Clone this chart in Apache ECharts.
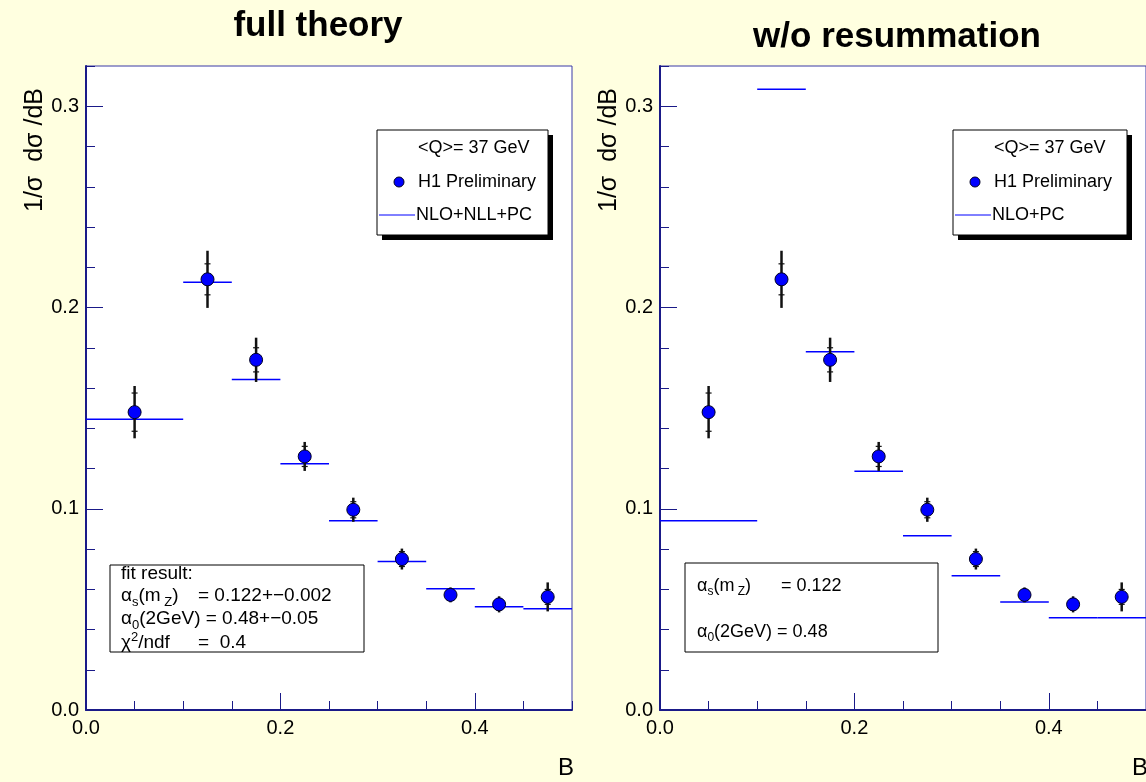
<!DOCTYPE html>
<html>
<head>
<meta charset="utf-8">
<script src="https://cdn.jsdelivr.net/npm/echarts@6/dist/echarts.min.js"></script>
<style>
  html, body { margin: 0; padding: 0; background: #ffffe0; }
  #chart { width: 1146px; height: 782px; }
</style>
</head>
<body>
<div id="chart"></div>
<script>
// B bins
const binLo = [0.0, 0.10, 0.15, 0.20, 0.25, 0.30, 0.35, 0.40, 0.45];
const binHi = [0.10, 0.15, 0.20, 0.25, 0.30, 0.35, 0.40, 0.45, 0.50];
const binCenter = [0.05, 0.125, 0.175, 0.225, 0.275, 0.325, 0.375, 0.425, 0.475];

// H1 preliminary, <Q> = 37 GeV (value, total error, stat error)
const h1Value = [0.148, 0.214, 0.174, 0.126, 0.0995, 0.075, 0.0572, 0.0525, 0.0562];
const h1ErrTot = [0.013, 0.0142, 0.011, 0.0072, 0.006, 0.0052, 0.0037, 0.004, 0.0072];
const h1ErrStat = [0.0095, 0.0077, 0.006, 0.005, 0.004, 0.0037, 0.0025, 0.0028, 0.0037];

// theory predictions per bin
const fullTheory = [0.1445, 0.2125, 0.1642, 0.1224, 0.094, 0.0738, 0.0603, 0.0513, 0.0503];
const noResum = [0.094, 0.3085, 0.178, 0.1186, 0.0866, 0.0667, 0.0537, 0.0458, 0.0458];

const xTickLabels = [0.0, 0.2, 0.4];
const yTickLabels = [0.0, 0.1, 0.2, 0.3];

const FONT = '"Liberation Sans", Arial, Helvetica, sans-serif';
const AXIS_COLOR = '#1a1a88';

const panels = [
  { left: 86, title: 'full theory', titleX: 318, titleY: 26, theory: fullTheory, theoryName: 'NLO+NLL+PC' },
  { left: 660, title: 'w/o resummation', titleX: 897, titleY: 37, theory: noResum, theoryName: 'NLO+PC' }
];

const points = binCenter.map((x, i) => [x, h1Value[i]]);
const errData = binCenter.map((x, i) => [x, h1Value[i], h1ErrTot[i], h1ErrStat[i]]);

function stepItem(params, api) {
  const a = api.coord([api.value(0), api.value(2)]);
  const b = api.coord([api.value(1), api.value(2)]);
  return {
    type: 'line',
    shape: { x1: a[0], y1: a[1], x2: b[0], y2: b[1] },
    style: { stroke: '#0000ff', lineWidth: 1.5 }
  };
}

function errItem(params, api) {
  const x = api.value(0), y = api.value(1), et = api.value(2), es = api.value(3);
  const t = api.coord([x, y + et]), b = api.coord([x, y - et]);
  const st = api.coord([x, y + es]), sb = api.coord([x, y - es]);
  const tick = (p) => ({
    type: 'line',
    shape: { x1: p[0] - 3, y1: p[1], x2: p[0] + 3, y2: p[1] },
    style: { stroke: '#111', lineWidth: 1.2 }
  });
  return {
    type: 'group',
    children: [
      { type: 'line', shape: { x1: t[0], y1: t[1], x2: b[0], y2: b[1] }, style: { stroke: '#111', lineWidth: 2.5 } },
      tick(st), tick(sb)
    ]
  };
}

const grids = [], xAxes = [], yAxes = [], series = [];

panels.forEach((p, k) => {
  grids.push({
    left: p.left, top: 66, width: 486, height: 644,
    show: true, backgroundColor: '#ffffff', borderColor: '#3b3ba6', borderWidth: 1
  });
  // main x axis with labels
  xAxes.push({
    gridIndex: k, type: 'value', min: 0, max: 0.5, interval: 0.2, position: 'bottom',
    axisLine: { show: true, lineStyle: { color: AXIS_COLOR, width: 2 } },
    axisTick: { show: true, inside: true, length: 17, customValues: xTickLabels, lineStyle: { color: AXIS_COLOR, width: 1 } },
    axisLabel: {
      show: true, margin: 8, color: '#000', fontSize: 20, fontFamily: FONT,
      customValues: xTickLabels, formatter: v => v.toFixed(1)
    },
    splitLine: { show: false }
  });
  // small x ticks
  xAxes.push({
    gridIndex: k, type: 'value', min: 0, max: 0.5, interval: 0.05, position: 'bottom',
    axisLine: { show: false },
    axisTick: { show: true, inside: true, length: 9, lineStyle: { color: AXIS_COLOR, width: 1 } },
    axisLabel: { show: false },
    splitLine: { show: false }
  });
  yAxes.push({
    gridIndex: k, type: 'value', min: 0, max: 0.32, interval: 0.1, position: 'left',
    axisLine: { show: true, lineStyle: { color: AXIS_COLOR, width: 2 } },
    axisTick: { show: true, inside: true, length: 17, customValues: yTickLabels, lineStyle: { color: AXIS_COLOR, width: 1 } },
    axisLabel: {
      show: true, margin: 7, color: '#000', fontSize: 20, fontFamily: FONT,
      customValues: yTickLabels, formatter: v => v.toFixed(1)
    },
    splitLine: { show: false }
  });
  yAxes.push({
    gridIndex: k, type: 'value', min: 0, max: 0.32, interval: 0.02, position: 'left',
    axisLine: { show: false },
    axisTick: { show: true, inside: true, length: 9, lineStyle: { color: AXIS_COLOR, width: 1 } },
    axisLabel: { show: false },
    splitLine: { show: false }
  });

  const xi = k * 2, yi = k * 2;
  series.push({
    name: p.theoryName, type: 'custom', xAxisIndex: xi, yAxisIndex: yi,
    renderItem: stepItem, encode: { x: [0, 1], y: 2 },
    data: binLo.map((lo, i) => [lo, binHi[i], p.theory[i]]), z: 2
  });
  series.push({
    name: 'H1 errors', type: 'custom', xAxisIndex: xi, yAxisIndex: yi,
    renderItem: errItem, encode: { x: 0, y: [1] },
    data: errData, z: 3
  });
  series.push({
    name: 'H1 Preliminary', type: 'scatter', xAxisIndex: xi, yAxisIndex: yi,
    symbol: 'circle', symbolSize: 13,
    itemStyle: { color: '#0000ff', borderColor: '#000022', borderWidth: 1, opacity: 1 },
    data: points, z: 4
  });
});

// annotation helpers
function txt(x, y, text, size, extra) {
  return {
    type: 'text', x: x, y: y,
    style: Object.assign({ text: text, fontSize: size, fontFamily: FONT, fill: '#000', align: 'left', verticalAlign: 'middle' }, extra || {})
  };
}
function makeRich(size) {
  const s = Math.round(size * 0.68);
  return {
    n: { fontSize: size, fontFamily: FONT, fill: '#000', lineHeight: size + 6 },
    sub: { fontSize: s, fontFamily: FONT, fill: '#000', lineHeight: s, verticalAlign: 'bottom' },
    sup: { fontSize: s, fontFamily: FONT, fill: '#000', lineHeight: s, verticalAlign: 'top' }
  };
}
function richTxt(x, y, text, size) {
  return { type: 'text', x: x, y: y, style: { text: text, rich: makeRich(size), align: 'left', verticalAlign: 'middle' } };
}

function legendBox(x0, w, label) {
  return [
    { type: 'rect', shape: { x: x0 + 5, y: 135, width: w, height: 105 }, style: { fill: '#000' } },
    { type: 'rect', shape: { x: x0, y: 130, width: w, height: 105 }, style: { fill: '#fff', stroke: '#000', lineWidth: 1 } },
    txt(x0 + 41, 148, '<Q>= 37 GeV', 18),
    { type: 'circle', shape: { cx: x0 + 22, cy: 182, r: 5 }, style: { fill: '#0000ff', stroke: '#000022', lineWidth: 1 } },
    txt(x0 + 41, 182, 'H1 Preliminary', 18),
    { type: 'line', shape: { x1: x0 + 2, y1: 215, x2: x0 + 38, y2: 215 }, style: { stroke: '#0000ff', lineWidth: 1 } },
    txt(x0 + 39, 215, label, 18)
  ];
}

const graphics = [];
panels.forEach(p => {
  graphics.push(txt(p.titleX, p.titleY, p.title, 35, { fontWeight: 'bold', align: 'center' }));
  graphics.push({
    type: 'text', x: p.left - 51, y: 150, rotation: Math.PI / 2,
    style: { text: '1/σ  dσ /dB', fontSize: 25, fontFamily: FONT, fill: '#000', align: 'center', verticalAlign: 'middle' }
  });
  graphics.push(txt(p.left + 480, 768, 'B', 24, { align: 'center' }));
});

graphics.push(...legendBox(377, 171, 'NLO+NLL+PC'));
graphics.push(...legendBox(953, 174, 'NLO+PC'));

// fit result box (left)
graphics.push({ type: 'rect', shape: { x: 110, y: 565, width: 254, height: 87 }, style: { fill: '#fff', stroke: '#000', lineWidth: 1 } });
graphics.push(richTxt(121, 574, '{n|fit result:}', 19));
graphics.push(richTxt(121, 596, '{n|α}{sub|s}{n|(m}{sub| Z}{n|)}', 19));
graphics.push(richTxt(198, 596, '{n|= 0.122+−0.002}', 19));
graphics.push(richTxt(121, 619, '{n|α}{sub|0}{n|(2GeV) = 0.48+−0.05}', 19));
graphics.push(richTxt(121, 643, '{n|χ}{sup|2}{n|/ndf}', 19));
graphics.push(richTxt(198, 643, '{n|=  0.4}', 19));

// fixed parameters box (right)
graphics.push({ type: 'rect', shape: { x: 685, y: 563, width: 253, height: 89 }, style: { fill: '#fff', stroke: '#000', lineWidth: 1 } });
graphics.push(richTxt(697, 586, '{n|α}{sub|s}{n|(m}{sub| Z}{n|)}', 18));
graphics.push(richTxt(781, 586, '{n|= 0.122}', 18));
graphics.push(richTxt(697, 632, '{n|α}{sub|0}{n|(2GeV) = 0.48}', 18));

const chart = echarts.init(document.getElementById('chart'), null, { renderer: 'canvas' });
chart.setOption({
  backgroundColor: '#ffffe0',
  animation: false,
  grid: grids,
  xAxis: xAxes,
  yAxis: yAxes,
  series: series,
  graphic: graphics
});
</script>
</body>
</html>
